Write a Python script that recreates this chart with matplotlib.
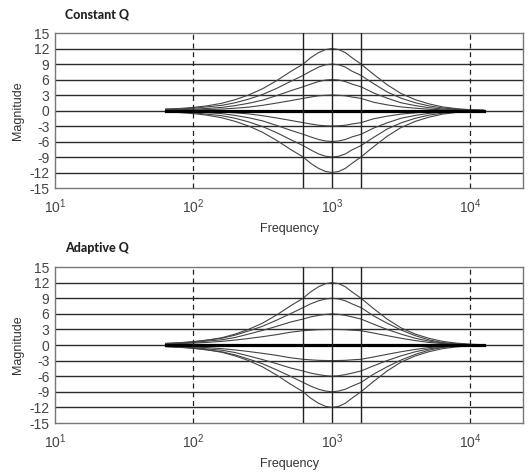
import matplotlib
matplotlib.use('Agg')
import matplotlib.pyplot as plt

freq = [63, 80, 100, 125, 160, 200, 250, 315, 400, 500, 620, 700, 800, 900,
        1000, 1120, 1250, 1400, 1620, 2000, 2500, 3150, 4000, 5000, 6300, 8000, 10000, 12500]

# Constant Q, magnitude in dB
cq_p12 = [0.3, 0.4, 0.6, 0.9, 1.4, 2.1, 3.0, 4.2, 5.8, 7.5, 9.0, 10.2, 11.2, 11.8,
          12.0, 11.8, 11.2, 10.2, 9.0, 7.0, 5.0, 3.3, 2.1, 1.3, 0.7, 0.35, 0.15, 0.05]
cq_p9 = [0.2, 0.3, 0.45, 0.7, 1.0, 1.5, 2.2, 3.1, 4.3, 5.6, 6.8, 7.6, 8.4, 8.85,
         9.0, 8.85, 8.4, 7.6, 6.8, 5.2, 3.6, 2.4, 1.5, 0.9, 0.5, 0.25, 0.1, 0.04]
cq_p6 = [0.1, 0.15, 0.25, 0.4, 0.6, 0.95, 1.4, 2.0, 2.9, 3.8, 4.6, 5.1, 5.6, 5.9,
         6.0, 5.9, 5.6, 5.1, 4.6, 3.4, 2.4, 1.5, 0.95, 0.55, 0.3, 0.15, 0.06, 0.02]
cq_p3 = [0.05, 0.07, 0.1, 0.17, 0.28, 0.45, 0.65, 1.0, 1.45, 1.9, 2.35, 2.6, 2.85, 2.95,
         3.0, 2.95, 2.85, 2.6, 2.35, 1.6, 1.1, 0.7, 0.45, 0.25, 0.14, 0.07, 0.03, 0.01]
cq_m3 = [-0.05, -0.07, -0.1, -0.17, -0.28, -0.45, -0.65, -1.0, -1.45, -1.9, -2.35, -2.6, -2.85, -2.95,
         -3.0, -2.95, -2.85, -2.6, -2.35, -1.6, -1.1, -0.7, -0.45, -0.25, -0.14, -0.07, -0.03, -0.01]
cq_m6 = [-0.1, -0.15, -0.25, -0.4, -0.6, -0.95, -1.4, -2.0, -2.9, -3.8, -4.6, -5.1, -5.6, -5.9,
         -6.0, -5.9, -5.6, -5.1, -4.6, -3.4, -2.4, -1.5, -0.95, -0.55, -0.3, -0.15, -0.06, -0.02]
cq_m9 = [-0.2, -0.3, -0.45, -0.7, -1.0, -1.5, -2.2, -3.1, -4.3, -5.6, -6.8, -7.6, -8.4, -8.85,
         -9.0, -8.85, -8.4, -7.6, -6.8, -5.2, -3.6, -2.4, -1.5, -0.9, -0.5, -0.25, -0.1, -0.04]
cq_m12 = [-0.3, -0.4, -0.6, -0.9, -1.4, -2.1, -3.0, -4.2, -5.8, -7.5, -9.0, -10.2, -11.2, -11.8,
          -12.0, -11.8, -11.2, -10.2, -9.0, -7.0, -5.0, -3.3, -2.1, -1.3, -0.7, -0.35, -0.15, -0.05]

# Adaptive Q, magnitude in dB
aq_p12 = [0.3, 0.4, 0.6, 0.9, 1.4, 2.1, 3.0, 4.2, 5.8, 7.5, 9.0, 10.2, 11.2, 11.8,
          12.0, 11.8, 11.2, 10.2, 9.0, 7.0, 5.0, 3.3, 2.1, 1.3, 0.7, 0.35, 0.15, 0.05]
aq_p9 = [0.3, 0.45, 0.65, 0.95, 1.3, 1.9, 2.7, 3.6, 4.8, 6.0, 7.2, 7.9, 8.5, 8.85,
         9.0, 8.85, 8.5, 7.9, 7.2, 5.6, 4.2, 2.9, 1.8, 1.0, 0.45, 0.2, 0.08, 0.03]
aq_p6 = [0.25, 0.35, 0.5, 0.75, 1.0, 1.45, 2.1, 2.8, 3.6, 4.4, 5.0, 5.4, 5.7, 5.9,
         6.0, 5.9, 5.7, 5.4, 5.0, 4.0, 3.0, 2.1, 1.3, 0.75, 0.4, 0.18, 0.07, 0.02]
aq_p3 = [0.2, 0.27, 0.37, 0.5, 0.7, 0.95, 1.25, 1.6, 2.0, 2.45, 2.75, 2.85, 2.95, 2.98,
         3.0, 2.98, 2.95, 2.85, 2.75, 2.3, 1.8, 1.3, 0.85, 0.5, 0.28, 0.13, 0.05, 0.02]
aq_m3 = [-0.2, -0.27, -0.37, -0.5, -0.7, -0.95, -1.25, -1.6, -2.0, -2.45, -2.75, -2.85, -2.95, -2.98,
         -3.0, -2.98, -2.95, -2.85, -2.75, -2.3, -1.8, -1.3, -0.85, -0.5, -0.28, -0.13, -0.05, -0.02]
aq_m6 = [-0.25, -0.35, -0.5, -0.75, -1.0, -1.45, -2.1, -2.8, -3.6, -4.4, -5.0, -5.4, -5.7, -5.9,
         -6.0, -5.9, -5.7, -5.4, -5.0, -4.0, -3.0, -2.1, -1.3, -0.75, -0.4, -0.18, -0.07, -0.02]
aq_m9 = [-0.3, -0.45, -0.65, -0.95, -1.3, -1.9, -2.7, -3.6, -4.8, -6.0, -7.2, -7.9, -8.5, -8.85,
         -9.0, -8.85, -8.5, -7.9, -7.2, -5.6, -4.2, -2.9, -1.8, -1.0, -0.45, -0.2, -0.08, -0.03]
aq_m12 = [-0.3, -0.4, -0.6, -0.9, -1.4, -2.1, -3.0, -4.2, -5.8, -7.5, -9.0, -10.2, -11.2, -11.8,
          -12.0, -11.8, -11.2, -10.2, -9.0, -7.0, -5.0, -3.3, -2.1, -1.3, -0.7, -0.35, -0.15, -0.05]

y_ticks = [-15, -12, -9, -6, -3, 0, 3, 6, 9, 12, 15]
x_ticks = [10, 100, 1000, 10000]
x_ticklabels = ['$10^1$', '$10^2$', '$10^3$', '$10^4$']
dashed_f = [100, 10000]          # dashed markers
band_f = [620, 1000, 1620]       # centre and band edges

plt.rcParams['font.family'] = ['Liberation Sans', 'DejaVu Sans']
plt.rcParams['mathtext.fontset'] = 'custom'
plt.rcParams['mathtext.rm'] = 'Liberation Sans'
plt.rcParams['mathtext.it'] = 'Liberation Sans'

fig = plt.figure(figsize=(5.31, 4.73), dpi=100)
ax1 = fig.add_axes([0.1036, 0.6025, 0.8814, 0.3277])
ax2 = fig.add_axes([0.1036, 0.1057, 0.8814, 0.3298])


def draw_panel(ax, curves, title, title_y):
    for yv in y_ticks[1:-1]:
        ax.axhline(yv, color='#2a2a2a', lw=1.0, zorder=1)
    for c in curves:
        ax.plot(freq, c, color='#444444', lw=0.8, zorder=2)
    ax.plot([freq[0], freq[-1]], [0, 0], color='black', lw=2.3, zorder=3)
    for f in dashed_f:
        ax.axvline(f, color='#222222', lw=0.9, ls=(0, (4, 3)), zorder=4)
    for f in band_f:
        ax.axvline(f, color='#222222', lw=1.0, zorder=4)
    ax.set_xscale('log')
    ax.set_xlim(10, 24000)
    ax.set_ylim(-15, 15)
    ax.set_yticks(y_ticks)
    ax.set_yticklabels([str(v) for v in y_ticks])
    ax.set_xticks(x_ticks)
    ax.set_xticklabels(x_ticklabels)
    ax.minorticks_off()
    ax.tick_params(length=0, labelsize=10, colors='#444444', pad=4)
    ax.tick_params(axis='x', pad=7)
    for s in ax.spines.values():
        s.set_color('#777777')
        s.set_linewidth(1.0)
    ax.set_xlabel('Frequency', fontsize=9, color='#333333', labelpad=5)
    ax.set_ylabel('Magnitude', fontsize=9, color='#333333', labelpad=4)
    fig.text(0.122, title_y, title, fontsize=9, fontweight='black',
             family='Lato', color='#222222', va='center')


draw_panel(ax1, [cq_p12, cq_p9, cq_p6, cq_p3, cq_m3, cq_m6, cq_m9, cq_m12],
           'Constant Q', 1 - 14 / 473)
draw_panel(ax2, [aq_p12, aq_p9, aq_p6, aq_p3, aq_m3, aq_m6, aq_m9, aq_m12],
           'Adaptive Q', 1 - 248 / 473)

fig.savefig('out.png', dpi=100)
